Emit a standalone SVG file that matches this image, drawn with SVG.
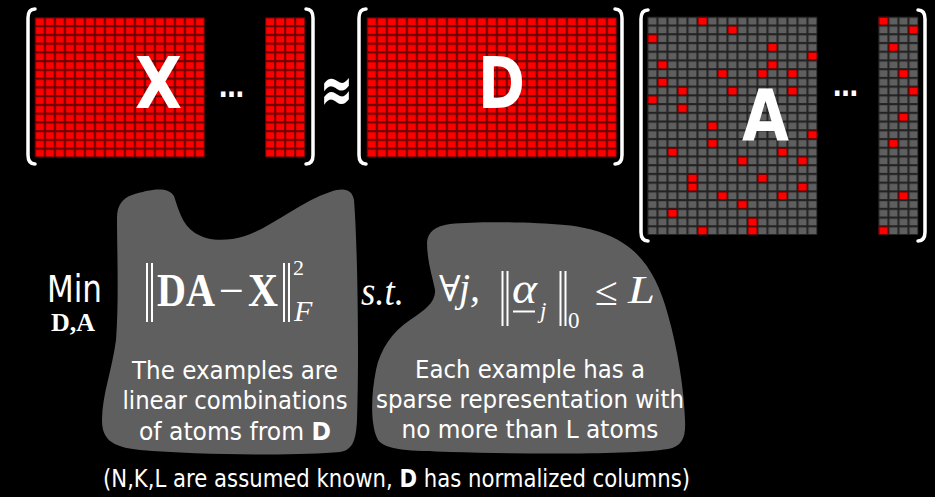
<svg xmlns="http://www.w3.org/2000/svg" xmlns:xlink="http://www.w3.org/1999/xlink" width="935" height="497" viewBox="0 0 935 497">
<style>
.bk{fill:none;stroke:#fff;stroke-width:3.5;stroke-linecap:round}
.big{font-family:"DejaVu Sans",Verdana,sans-serif;font-weight:bold;fill:#fff;font-size:72px}
.dots{font-family:"DejaVu Sans",sans-serif;font-weight:bold;fill:#fff;font-size:28px}
.body{font-family:"DejaVu Sans","Liberation Sans",sans-serif;fill:#fff;font-size:25px}
.ser{font-family:"Liberation Serif","DejaVu Serif",serif;fill:#fff}
.blob{fill:#5f5f5f}
.bar{stroke:#fff;stroke-width:2}
</style>
<defs>
<pattern id="redp" width="10" height="8.75" patternUnits="userSpaceOnUse">
<rect width="10" height="8.75" fill="#6a0000"/>
<rect x="1.2" y="1.2" width="8" height="6.6" fill="#ff0000"/>
</pattern>
<pattern id="greyp" width="10" height="8.73" patternUnits="userSpaceOnUse">
<rect width="10" height="8.73" fill="#222"/>
<rect x="1.2" y="1.2" width="8" height="6.6" fill="#5f5f5f"/>
</pattern>
<g id="rc"><rect width="10" height="8.73" fill="#6a0000"/><rect x="1.2" y="1.2" width="8" height="6.6" fill="#ff0000"/></g>
</defs>
<rect width="935" height="497" fill="#000"/>

<g id="matrix-X">
<g transform="translate(34.7,17.3)"><rect width="170" height="140" fill="url(#redp)"/></g>
<g transform="translate(265,17.3)"><rect width="40" height="140" fill="url(#redp)"/></g>
<path class="bk" d="M35 9 C30 9 28 12 28 18 L28 155 C28 161 30 164 35 164"/>
<path class="bk" d="M306 9 C311 9 313 12 313 18 L313 155 C313 161 311 164 306 164"/>
<text class="big" x="135" y="108" textLength="47" lengthAdjust="spacingAndGlyphs">X</text>
<text class="dots" x="219" y="97" textLength="25" lengthAdjust="spacingAndGlyphs">…</text>
</g>

<g id="approx">
<text x="320" y="112" font-family="DejaVu Sans,sans-serif" font-weight="bold" font-size="66" fill="#fff" textLength="33" lengthAdjust="spacingAndGlyphs">≈</text>
</g>

<g id="matrix-D">
<g transform="translate(366.7,17.3)"><rect width="250" height="140" fill="url(#redp)"/></g>
<path class="bk" d="M366 9 C361 9 359 12 359 18 L359 155 C359 161 361 164 366 164"/>
<path class="bk" d="M615 9 C620 9 622 12 622 18 L622 155 C622 161 620 164 615 164"/>
<text class="big" x="478" y="108" textLength="47" lengthAdjust="spacingAndGlyphs">D</text>
</g>

<g id="matrix-A">
<g transform="translate(647.3,16.7)">
<rect width="170" height="218.25" fill="url(#greyp)"/>
<use xlink:href="#rc" x="50" y="0"/><use xlink:href="#rc" x="80" y="8.73"/><use xlink:href="#rc" x="0" y="17.46"/>
<use xlink:href="#rc" x="120" y="26.19"/><use xlink:href="#rc" x="160" y="34.92"/><use xlink:href="#rc" x="10" y="43.65"/>
<use xlink:href="#rc" x="120" y="43.65"/><use xlink:href="#rc" x="70" y="52.38"/><use xlink:href="#rc" x="110" y="52.38"/>
<use xlink:href="#rc" x="140" y="52.38"/><use xlink:href="#rc" x="10" y="61.11"/><use xlink:href="#rc" x="30" y="69.84"/>
<use xlink:href="#rc" x="80" y="69.84"/><use xlink:href="#rc" x="140" y="69.84"/><use xlink:href="#rc" x="0" y="78.57"/>
<use xlink:href="#rc" x="30" y="87.3"/><use xlink:href="#rc" x="60" y="104.76"/><use xlink:href="#rc" x="160" y="113.49"/>
<use xlink:href="#rc" x="60" y="122.22"/><use xlink:href="#rc" x="20" y="130.95"/><use xlink:href="#rc" x="130" y="130.95"/>
<use xlink:href="#rc" x="90" y="139.68"/><use xlink:href="#rc" x="150" y="139.68"/><use xlink:href="#rc" x="40" y="157.14"/>
<use xlink:href="#rc" x="110" y="157.14"/><use xlink:href="#rc" x="40" y="165.87"/><use xlink:href="#rc" x="150" y="165.87"/>
<use xlink:href="#rc" x="70" y="174.6"/><use xlink:href="#rc" x="130" y="174.6"/><use xlink:href="#rc" x="90" y="183.33"/>
<use xlink:href="#rc" x="20" y="192.06"/><use xlink:href="#rc" x="100" y="200.79"/><use xlink:href="#rc" x="50" y="209.52"/>
<use xlink:href="#rc" x="100" y="209.52"/>
</g>
<g transform="translate(878.3,16.7)">
<rect width="40" height="218.25" fill="url(#greyp)"/>
<use xlink:href="#rc" x="0" y="0"/><use xlink:href="#rc" x="30" y="8.73"/><use xlink:href="#rc" x="10" y="26.19"/>
<use xlink:href="#rc" x="20" y="52.38"/><use xlink:href="#rc" x="30" y="69.84"/><use xlink:href="#rc" x="20" y="96.03"/>
<use xlink:href="#rc" x="10" y="122.22"/><use xlink:href="#rc" x="20" y="174.6"/><use xlink:href="#rc" x="0" y="209.52"/>
</g>
<path class="bk" d="M648 10 C643 10 641 13 641 19 L641 232 C641 238 643 241 648 241"/>
<path class="bk" d="M918 10 C923 10 925 13 925 19 L925 232 C925 238 923 241 918 241"/>
<text class="big" x="742" y="140" textLength="47" lengthAdjust="spacingAndGlyphs">A</text>
<text class="dots" x="833" y="96" textLength="25" lengthAdjust="spacingAndGlyphs">…</text>
</g>

<g id="blob-left">
<path class="blob" d="M117 218 C117 205 123 198 132 195 C150 189 168 186 174 196 C178 208 182 225 195 233 C208 241 225 242 245 236 C270 228 300 202 330 192 C345 187 352 190 354 200 C358 250 359 370 357 420 C356 442 352 450 340 452 C300 456 200 455 140 450 C110 447 102 438 102 420 C102 395 112 370 116 340 C119 300 117 250 117 218 Z"/>
<text class="body" x="235" y="379" text-anchor="middle" textLength="206" lengthAdjust="spacingAndGlyphs">The examples are</text>
<text class="body" x="235" y="409" text-anchor="middle" textLength="225" lengthAdjust="spacingAndGlyphs">linear combinations</text>
<text class="body" x="235" y="440" text-anchor="middle" textLength="192" lengthAdjust="spacingAndGlyphs">of atoms from <tspan font-weight="bold">D</tspan></text>
</g>

<g id="blob-right">
<path class="blob" d="M427 242 C428 232 435 226 450 224 C480 221 530 222 565 225 C595 228 615 236 630 248 C648 262 660 285 668 315 C678 350 684 390 685 420 C686 438 682 446 668 449 C630 455 520 454 450 452 C410 451 385 450 378 440 C370 425 371 395 376 370 C380 350 392 332 410 320 C425 310 436 302 435 290 C433 278 427 262 427 242 Z"/>
<text class="body" x="530" y="378" text-anchor="middle" textLength="230" lengthAdjust="spacingAndGlyphs">Each example has a</text>
<text class="body" x="530" y="408" text-anchor="middle" textLength="308" lengthAdjust="spacingAndGlyphs">sparse representation with</text>
<text class="body" x="530" y="438" text-anchor="middle" textLength="257" lengthAdjust="spacingAndGlyphs">no more than L atoms</text>
</g>

<g id="objective">
<text class="body" x="47" y="302" style="font-size:37px" textLength="55" lengthAdjust="spacingAndGlyphs">Min</text>
<text class="ser" x="51" y="331" font-size="26" font-weight="bold" textLength="44" lengthAdjust="spacingAndGlyphs">D,A</text>
<line class="bar" x1="147" y1="263" x2="147" y2="322"/>
<line class="bar" x1="152" y1="263" x2="152" y2="322"/>
<text class="ser" x="157" y="306" font-size="47" font-weight="bold" textLength="58" lengthAdjust="spacingAndGlyphs">DA</text>
<text class="ser" x="219" y="306" font-size="46" textLength="25" lengthAdjust="spacingAndGlyphs">−</text>
<text class="ser" x="248" y="306" font-size="47" font-weight="bold" textLength="30" lengthAdjust="spacingAndGlyphs">X</text>
<line class="bar" x1="284" y1="263" x2="284" y2="322"/>
<line class="bar" x1="289" y1="263" x2="289" y2="322"/>
<text class="ser" x="293" y="275" font-size="22">2</text>
<text class="ser" x="294" y="321" font-size="30" font-style="italic">F</text>
</g>

<g id="constraint">
<text class="ser" x="361" y="305" font-size="40" font-style="italic" textLength="43" lengthAdjust="spacingAndGlyphs">s.t.</text>
<text class="ser" x="439" y="301" font-size="36">∀</text>
<text class="ser" x="459" y="301" font-size="40" font-style="italic">j,</text>
<line class="bar" x1="502.5" y1="271" x2="502.5" y2="326"/>
<line class="bar" x1="507.5" y1="271" x2="507.5" y2="326"/>
<text class="ser" x="512" y="303" font-size="44" font-style="italic" textLength="25" lengthAdjust="spacingAndGlyphs">α</text>
<line class="bar" x1="513" y1="311.5" x2="535" y2="311.5"/>
<text class="ser" x="540" y="318" font-size="23" font-style="italic">j</text>
<line class="bar" x1="560.5" y1="271" x2="560.5" y2="326"/>
<line class="bar" x1="565.5" y1="271" x2="565.5" y2="326"/>
<text class="ser" x="568" y="328" font-size="23">0</text>
<text class="ser" x="595" y="305" font-size="40" textLength="23" lengthAdjust="spacingAndGlyphs">≤</text>
<text class="ser" x="628" y="303" font-size="40" font-style="italic" textLength="27" lengthAdjust="spacingAndGlyphs">L</text>
</g>

<g id="note">
<text class="body" x="103" y="487" textLength="587" lengthAdjust="spacingAndGlyphs">(N,K,L are assumed known, <tspan font-weight="bold">D</tspan> has normalized columns)</text>
</g>
</svg>
